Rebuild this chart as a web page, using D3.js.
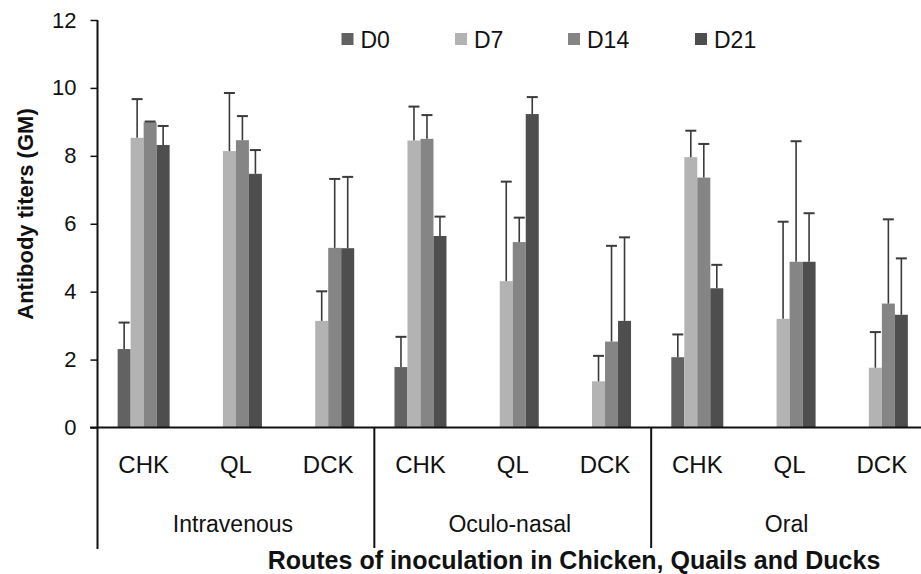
<!DOCTYPE html>
<html><head><meta charset="utf-8">
<script src="https://cdn.jsdelivr.net/npm/d3@7"></script>
<style>body{margin:0;background:#fff}svg{display:block}text{font-family:Arial,"Liberation Sans",sans-serif;fill:#111}</style>
</head><body><svg id="c" width="921" height="574"></svg>
<script>
const routes = ["Intravenous", "Oculo-nasal", "Oral"];
const species = ["CHK", "QL", "DCK"];
const series = ["D0", "D7", "D14", "D21"];
const colors = ["#626262", "#b3b3b3", "#858585", "#4e4e4e"];
const yTicks = [0, 2, 4, 6, 8, 10, 12];
// values per route, per species, per series (D0, D7, D14, D21)
const means = [
  [[2.31, 8.53, 8.99, 8.32], [0, 8.14, 8.46, 7.47], [0, 3.14, 5.29, 5.28]],
  [[1.78, 8.45, 8.50, 5.64], [0, 4.31, 5.46, 9.23], [0, 1.36, 2.53, 3.14]],
  [[2.07, 7.96, 7.36, 4.10], [0, 3.20, 4.88, 4.88], [0, 1.76, 3.65, 3.32]]
];
const upper = [
  [[3.09, 9.67, 9.01, 8.88], [null, 9.85, 9.17, 8.17], [null, 4.01, 7.32, 7.38]],
  [[2.67, 9.45, 9.20, 6.21], [null, 7.24, 6.18, 9.73], [null, 2.11, 5.35, 5.60]],
  [[2.74, 8.74, 8.35, 4.79], [null, 6.06, 8.43, 6.31], [null, 2.81, 6.13, 4.98]]
];

const svg = d3.select("#c");
const y = d3.scaleLinear().domain([0, 12]).range([427.5, 20]);
const xr = d3.scaleBand().domain(routes).range([97.5, 928]);
const xs = d3.scaleBand().domain(species).range([0, xr.bandwidth()]);
const barW = 13;
const xb = d3.scaleBand().domain(series).range([-barW * 2, barW * 2]);

const data = [];
routes.forEach((r, i) => species.forEach((s, j) => series.forEach((d, k) => {
  data.push({r, s, d, k, v: means[i][j][k], u: upper[i][j][k]});
})));
const cx = o => xr(o.r) + xs(o.s) + xs.bandwidth() / 2 + xb(o.d);

svg.append("g").selectAll("rect").data(data.filter(o => o.v > 0)).join("rect")
  .attr("x", cx).attr("width", xb.bandwidth())
  .attr("y", o => y(o.v)).attr("height", o => y(0) - y(o.v))
  .attr("fill", o => colors[o.k]);

const eb = svg.append("g").attr("stroke", "#3a3a3a").attr("stroke-width", 1.6);
const ed = data.filter(o => o.u != null);
eb.selectAll("line.v").data(ed).join("line").attr("class", "v")
  .attr("x1", o => cx(o) + barW / 2).attr("x2", o => cx(o) + barW / 2)
  .attr("y1", o => y(o.v)).attr("y2", o => y(o.u));
eb.selectAll("line.c").data(ed).join("line").attr("class", "c")
  .attr("stroke-width", 2)
  .attr("x1", o => cx(o) + barW / 2 - 5.5).attr("x2", o => cx(o) + barW / 2 + 5.5)
  .attr("y1", o => y(o.u)).attr("y2", o => y(o.u));

// y axis
const ya = svg.append("g").attr("transform", "translate(97.5,0)")
  .call(d3.axisLeft(y).tickValues(yTicks).tickSize(7).tickPadding(14).tickFormat(d3.format("d")));
ya.select(".domain").remove();
ya.selectAll("line").attr("stroke", "#111").attr("stroke-width", 1.5);
ya.selectAll("text").attr("font-size", 22).attr("fill", "#111").attr("font-family", "Arial, 'Liberation Sans', sans-serif");
svg.append("line").attr("x1", 97.5).attr("x2", 97.5).attr("y1", y(12)).attr("y2", 549)
  .attr("stroke", "#111").attr("stroke-width", 2);
// x axis line
svg.append("line").attr("x1", 90).attr("x2", 921).attr("y1", y(0)).attr("y2", y(0))
  .attr("stroke", "#111").attr("stroke-width", 2);
// dividers
svg.append("g").selectAll("line").data(routes.slice(1)).join("line")
  .attr("x1", r => xr(r)).attr("x2", r => xr(r)).attr("y1", y(0)).attr("y2", 548)
  .attr("stroke", "#111").attr("stroke-width", 2);

// species labels
const sl = [];
routes.forEach(r => species.forEach(s => sl.push({r, s})));
svg.append("g").selectAll("text").data(sl).join("text")
  .attr("x", o => xr(o.r) + xs(o.s) + xs.bandwidth() / 2).attr("y", 472.5)
  .attr("text-anchor", "middle").attr("font-size", 24).text(o => o.s);
// route labels
svg.append("g").selectAll("text").data(routes).join("text")
  .attr("x", r => xr(r) + xr.bandwidth() / 2 - 3).attr("y", 531.5)
  .attr("text-anchor", "middle").attr("font-size", 23).text(r => r);

// axis titles
svg.append("text").attr("x", 574).attr("y", 569).attr("text-anchor", "middle")
  .attr("font-size", 25).attr("font-weight", "bold").text("Routes of inoculation in Chicken, Quails and Ducks");
svg.append("text").attr("transform", "translate(33,214) rotate(-90)").attr("text-anchor", "middle")
  .attr("font-size", 22).attr("font-weight", "bold").text("Antibody titers (GM)");

// legend
const lx = [341.5, 455, 568, 695];
const lg = svg.append("g").selectAll("g").data(series).join("g")
  .attr("transform", (d, i) => `translate(${lx[i]},0)`);
lg.append("rect").attr("x", 0).attr("y", 33).attr("width", 12).attr("height", 12)
  .attr("fill", (d, i) => colors[i]);
lg.append("text").attr("x", 19).attr("y", 47.5).attr("font-size", 23).text(d => d);
</script></body></html>
